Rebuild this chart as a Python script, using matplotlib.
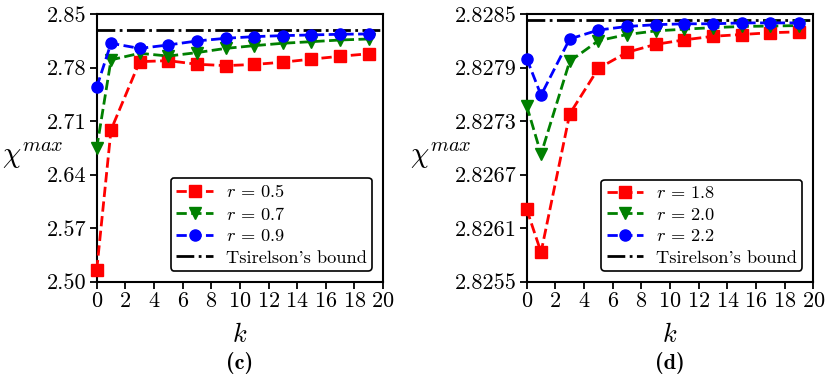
import matplotlib
matplotlib.use("Agg")
import matplotlib.pyplot as plt
import numpy as np

plt.rcParams['font.family'] = 'serif'
plt.rcParams['font.serif'] = ['cmr10']
plt.rcParams['mathtext.fontset'] = 'cm'
plt.rcParams['axes.formatter.use_mathtext'] = True
plt.rcParams['axes.unicode_minus'] = False

k = [0, 1, 3, 5, 7, 9, 11, 13, 15, 17, 19]

# panel (c)
c_r05 = [2.515, 2.6985, 2.7877, 2.789, 2.7843, 2.7825, 2.784, 2.787, 2.791, 2.7947, 2.798]
c_r07 = [2.6746, 2.790, 2.7986, 2.795, 2.7995, 2.805, 2.8086, 2.8117, 2.8138, 2.816, 2.8173]
c_r09 = [2.7543, 2.8117, 2.805, 2.8095, 2.8147, 2.8182, 2.8204, 2.8217, 2.8226, 2.8235, 2.8239]
c_labels = [r'$r\,=\,0.5$', r'$r\,=\,0.7$', r'$r\,=\,0.9$']
c_yticks = [2.50, 2.57, 2.64, 2.71, 2.78, 2.85]

# panel (d)
d_r18 = [2.82631, 2.82583, 2.82738, 2.82789, 2.82807, 2.82816, 2.82821, 2.82825, 2.82827, 2.82829, 2.8283]
d_r20 = [2.82747, 2.82693, 2.82797, 2.8282, 2.82827, 2.82831, 2.82833, 2.828347, 2.82836, 2.828365, 2.82837]
d_r22 = [2.8280, 2.82759, 2.82822, 2.82832, 2.82836, 2.82838, 2.82839, 2.82839, 2.8284, 2.8284, 2.8284]
d_labels = [r'$r\,=\,1.8$', r'$r\,=\,2.0$', r'$r\,=\,2.2$']
d_yticks = [2.8255, 2.8261, 2.8267, 2.8273, 2.8279, 2.8285]

tsirelson = 2 * np.sqrt(2)
xticks = list(range(0, 21, 2))

fig = plt.figure(figsize=(8.3, 3.79), dpi=100)
ax1 = fig.add_axes([0.1165, 0.2567, 0.345, 0.7064])
ax2 = fig.add_axes([0.6346, 0.2567, 0.3453, 0.7064])

styles = [('red', 's'), ('green', 'v'), ('blue', 'o')]

def draw(ax, series, labels, yticks, fmt, title, ylab_x):
    for (col, mk), ys, lab in zip(styles, series, labels):
        ax.plot(k, ys, linestyle='--', color=col, marker=mk, markersize=8,
                linewidth=2, label=lab, clip_on=False, zorder=3)
    ax.axhline(tsirelson, color='black', linestyle='-.', linewidth=2,
               label="Tsirelson's bound", zorder=2)
    ax.set_xlim(0, 20)
    ax.set_ylim(yticks[0], yticks[-1])
    ax.set_xticks(xticks)
    ax.set_yticks(yticks)
    ax.set_yticklabels([fmt.format(v) for v in yticks])
    ax.tick_params(labelsize=16, width=1.3, length=5, pad=2)
    for s in ax.spines.values():
        s.set_linewidth(1.5)
    ax.set_xlabel(r'$k$', fontsize=19)
    ax.xaxis.set_label_coords(0.5, -0.155)
    ax.set_ylabel(r'$\chi^{max}$', fontsize=21, rotation=0, va='center', ha='center')
    ax.yaxis.set_label_coords(ylab_x, 0.47)
    leg = ax.legend(loc='lower right', fontsize=13.2, handlelength=2.0,
                    framealpha=1, edgecolor='black', fancybox=True,
                    borderpad=0.3, labelspacing=0.3, handletextpad=0.7,
                    borderaxespad=0, bbox_to_anchor=(0.962, 0.04))
    leg.get_frame().set_linewidth(1.2)
    ax.text(0.5, -0.304, title, transform=ax.transAxes, ha='center', va='center',
            fontsize=16, family='cmb10')

draw(ax1, [c_r05, c_r07, c_r09], c_labels, c_yticks, '{:.2f}', '(c)', -0.222)
draw(ax2, [d_r18, d_r20, d_r22], d_labels, d_yticks, '{:.4f}', '(d)', -0.30)

fig.savefig('out.png', dpi=100)
